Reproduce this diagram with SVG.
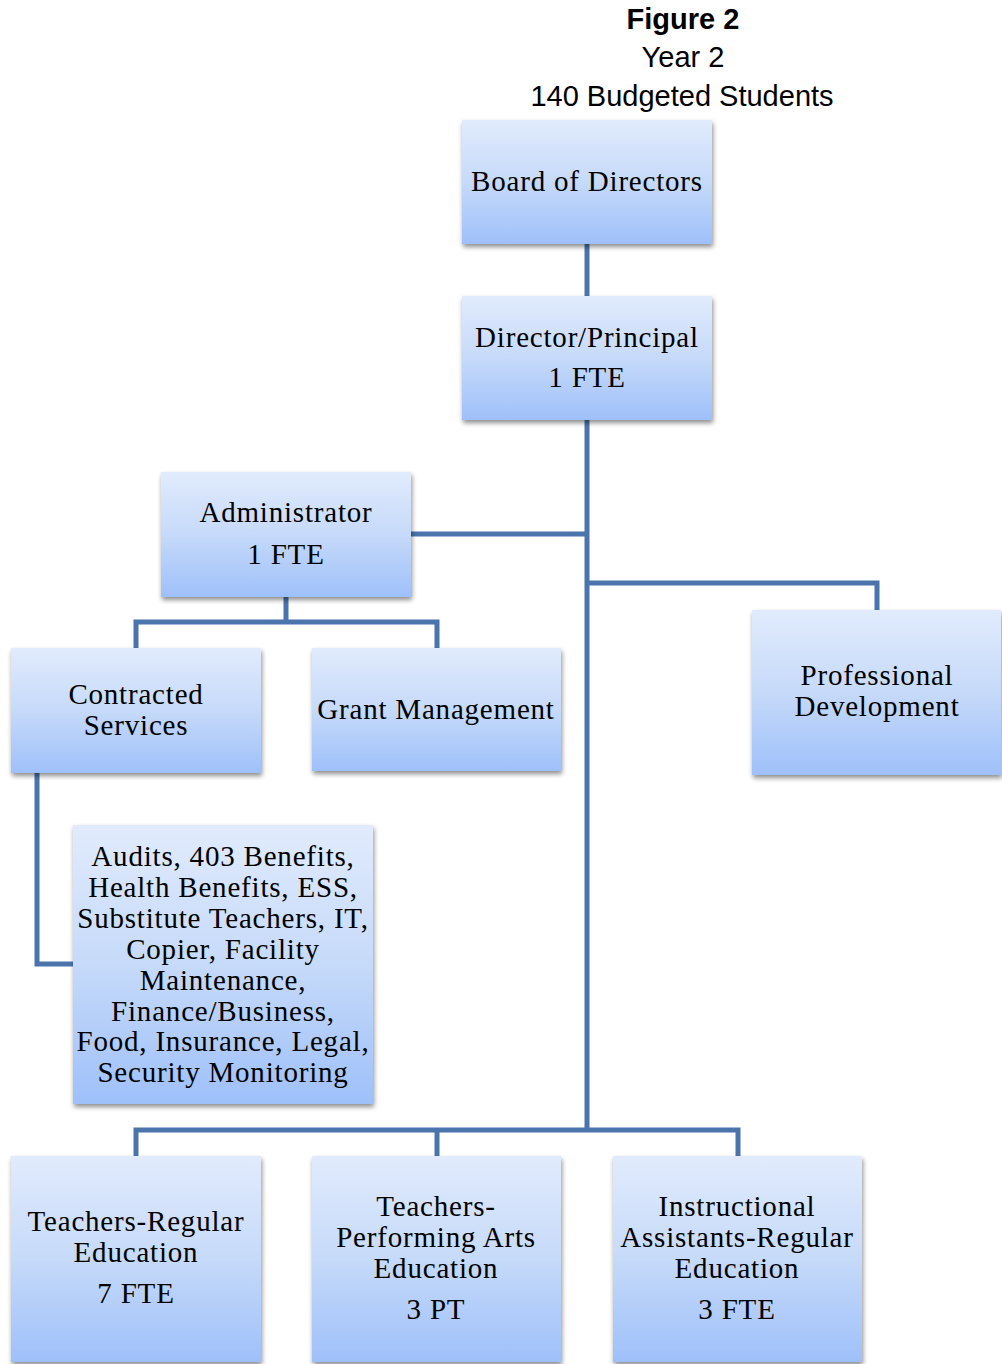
<svg xmlns="http://www.w3.org/2000/svg" width="1002" height="1364" viewBox="0 0 1002 1364">
<defs>
<linearGradient id="g" x1="0" y1="0" x2="0" y2="1">
<stop offset="0" stop-color="#e1ebfd"/>
<stop offset="0.5" stop-color="#c6daf9"/>
<stop offset="1" stop-color="#9ec0fa"/>
</linearGradient>
<filter id="sh" x="-10%" y="-10%" width="125%" height="125%">
<feGaussianBlur in="SourceAlpha" stdDeviation="2.5"/>
<feOffset dx="1" dy="3" result="b"/>
<feComponentTransfer><feFuncA type="linear" slope="0.45"/></feComponentTransfer>
<feMerge><feMergeNode/><feMergeNode in="SourceGraphic"/></feMerge>
</filter>
</defs>
<style>
.box{fill:url(#g);filter:url(#sh)}
.t{font-family:"Liberation Serif","Times New Roman",serif;font-size:29px;letter-spacing:0.8px;fill:#000;text-anchor:middle}
.h{font-family:"Liberation Sans",Arial,sans-serif;font-size:29px;fill:#000;text-anchor:middle}
.c{fill:none;stroke:#4a74ab;stroke-width:5;stroke-linejoin:miter}
</style>
<g id="title">
<text class="h" x="683" y="29" font-weight="bold" font-size="28">Figure 2</text>
<text class="h" x="683" y="67">Year 2</text>
<text class="h" x="682" y="106">140 Budgeted Students</text>
</g>
<g id="connectors">
<path class="c" d="M587 244V296"/>
<path class="c" d="M587 420V1130"/>
<path class="c" d="M411 534H587"/>
<path class="c" d="M587 583H877V610"/>
<path class="c" d="M286 597V622"/>
<path class="c" d="M136 648V622H437V648"/>
<path class="c" d="M37 773V964H73"/>
<path class="c" d="M136 1156V1130H738V1156"/>
<path class="c" d="M437 1130V1156"/>
</g>
<g id="board">
<rect class="box" x="462" y="120" width="250" height="124"/>
<text class="t" x="587" y="191">Board of Directors</text>
</g>
<g id="director">
<rect class="box" x="462" y="296" width="250" height="124"/>
<text class="t" x="587" y="347">Director/Principal</text>
<text class="t" x="587" y="387">1 FTE</text>
</g>
<g id="administrator">
<rect class="box" x="161" y="472" width="250" height="125"/>
<text class="t" x="286" y="522">Administrator</text>
<text class="t" x="286" y="564">1 FTE</text>
</g>
<g id="contracted">
<rect class="box" x="11" y="648" width="250" height="125"/>
<text class="t" x="136" y="704">Contracted</text>
<text class="t" x="136" y="735">Services</text>
</g>
<g id="grant">
<rect class="box" x="312" y="648" width="249" height="123"/>
<text class="t" x="436" y="719">Grant Management</text>
</g>
<g id="profdev">
<rect class="box" x="752" y="610" width="249" height="165"/>
<text class="t" x="877" y="685">Professional</text>
<text class="t" x="877" y="716">Development</text>
</g>
<g id="services">
<rect class="box" x="73" y="825" width="300" height="279"/>
<text class="t" x="223" y="866">Audits, 403 Benefits,</text>
<text class="t" x="223" y="897">Health Benefits, ESS,</text>
<text class="t" x="223" y="928">Substitute Teachers, IT,</text>
<text class="t" x="223" y="959">Copier, Facility</text>
<text class="t" x="223" y="990">Maintenance,</text>
<text class="t" x="223" y="1021">Finance/Business,</text>
<text class="t" x="223" y="1051">Food, Insurance, Legal,</text>
<text class="t" x="223" y="1082">Security Monitoring</text>
</g>
<g id="teachers-regular">
<rect class="box" x="11" y="1156" width="250" height="206"/>
<text class="t" x="136" y="1231">Teachers-Regular</text>
<text class="t" x="136" y="1262">Education</text>
<text class="t" x="136" y="1303">7 FTE</text>
</g>
<g id="teachers-arts">
<rect class="box" x="312" y="1156" width="249" height="206"/>
<text class="t" x="436" y="1216">Teachers-</text>
<text class="t" x="436" y="1247">Performing Arts</text>
<text class="t" x="436" y="1278">Education</text>
<text class="t" x="436" y="1319">3 PT</text>
</g>
<g id="instructional">
<rect class="box" x="613" y="1156" width="249" height="206"/>
<text class="t" x="737" y="1216">Instructional</text>
<text class="t" x="737" y="1247">Assistants-Regular</text>
<text class="t" x="737" y="1278">Education</text>
<text class="t" x="737" y="1319">3 FTE</text>
</g>
</svg>
